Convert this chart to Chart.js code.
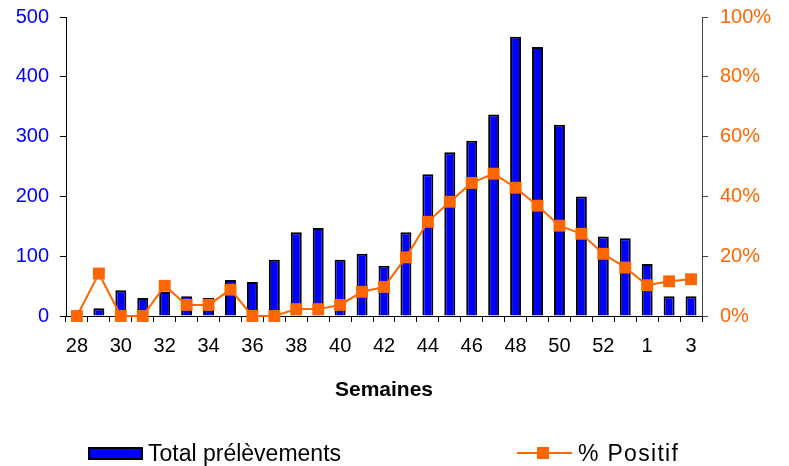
<!DOCTYPE html>
<html>
<head>
<meta charset="utf-8">
<script src="https://cdn.jsdelivr.net/npm/chart.js@4/dist/chart.umd.min.js"></script>
<style>
  html, body { margin: 0; padding: 0; background: #fff; }
  #wrap { position: relative; width: 789px; height: 466px; overflow: hidden; }
  #c { display: block; }
  .lg { position: absolute; font-family: "Liberation Sans", Arial, sans-serif; font-size: 23px; color: #000; line-height: 24px; white-space: nowrap; }
  .swatch-bar { position: absolute; left: 88px; top: 447px; width: 55px; height: 13px; box-sizing: border-box; background: #0000FF; border: 2px solid #000; }
  .swatch-line { position: absolute; left: 517px; top: 452px; width: 55px; height: 2px; background: #FF6600; }
  .swatch-mark { position: absolute; left: 537px; top: 447px; width: 12px; height: 12px; background: #FF6600; }
</style>
</head>
<body>
<div id="wrap">
  <canvas id="c" width="789" height="466"></canvas>
  <div class="swatch-bar"></div>
  <div class="lg" style="left:148px; top:441px;">Total prélèvements</div>
  <div class="swatch-line"></div>
  <div class="swatch-mark"></div>
  <div class="lg" style="left:578px; top:441px; letter-spacing:1.3px;">% Positif</div>
</div>
<script>
// Weeks of the season (28 → 53, then 1 → 3 of the following year)
const weeks = ['28','29','30','31','32','33','34','35','36','37','38','39','40','41','42',
               '43','44','45','46','47','48','49','50','51','52','53','1','2','3'];

// Number of samples taken per week
const totalSamples = [0, 13, 43, 30, 40, 33, 30, 60, 57, 94, 140, 147, 94, 104, 84,
                      140, 237, 274, 293, 337, 467, 450, 320, 200, 133, 130, 87, 33, 33];

// Share of positive samples per week (%)
const positiveRate = [0, 14.2, 0, 0, 10.1, 3.7, 3.7, 8.8, 0, 0, 2.3, 2.3, 3.7, 8.1, 9.7,
                      19.6, 31.5, 38.2, 44.5, 47.6, 42.9, 36.9, 30.2, 27.5, 20.8, 16.2, 10.3, 11.6, 12.3];

const countTicks = [0, 100, 200, 300, 400, 500];
const percentTicks = [0, 20, 40, 60, 80, 100];

const FONT = '"Liberation Sans", Arial, sans-serif';
const BLUE = '#0000FF';
const ORANGE = '#FF6600';

// Fixed axis box sizes so the plot area sits at a known place
function fitVertical(width) {
  return (s) => { s.width = width; s.paddingTop = 0; s.paddingBottom = 0; };
}

new Chart(document.getElementById('c'), {
  type: 'bar',
  data: {
    labels: weeks,
    datasets: [
      {
        type: 'line',
        label: '% Positif',
        data: positiveRate,
        yAxisID: 'yPct',
        borderColor: ORANGE,
        backgroundColor: ORANGE,
        borderWidth: 2,
        pointStyle: 'rect',
        pointRadius: 8.4,
        pointBorderWidth: 0,
        pointBackgroundColor: ORANGE,
        tension: 0,
        clip: false,
        order: 1
      },
      {
        type: 'bar',
        label: 'Total prélèvements',
        data: totalSamples,
        yAxisID: 'yCount',
        backgroundColor: BLUE,
        borderColor: '#000',
        borderWidth: 2,
        borderSkipped: 'start',
        barPercentage: 0.5,
        categoryPercentage: 1.0,
        order: 2
      }
    ]
  },
  options: {
    responsive: false,
    devicePixelRatio: 1,
    animation: false,
    layout: { padding: { top: 17, left: 0, right: 0, bottom: 0 } },
    plugins: {
      legend: { display: false },
      tooltip: { enabled: false }
    },
    scales: {
      x: {
        position: 'bottom',
        grid: { display: true, drawOnChartArea: false, offset: true, tickLength: 6, color: '#000', lineWidth: 1 },
        border: { display: true, color: '#000', width: 1 },
        ticks: {
          autoSkip: false,
          maxRotation: 0,
          minRotation: 0,
          padding: 12,
          color: '#000',
          font: { family: FONT, size: 20 },
          callback: function (v, i) { return i % 2 === 0 ? this.getLabelForValue(v) : ''; }
        },
        title: {
          display: true,
          text: 'Semaines',
          color: '#000',
          font: { family: FONT, size: 21, weight: 'bold' },
          padding: { top: 0, bottom: 63 }
        },
        afterFit: (s) => { s.height = 150; s.paddingLeft = 0; s.paddingRight = 0; }
      },
      yCount: {
        position: 'left',
        min: 0,
        max: 500,
        grid: { display: true, drawOnChartArea: false, tickLength: 6, color: '#000' },
        border: { display: true, color: '#000', width: 1 },
        afterBuildTicks: (s) => { s.ticks = countTicks.map(v => ({ value: v })); },
        ticks: {
          padding: 11,
          color: BLUE,
          font: { family: FONT, size: 20 }
        },
        afterFit: fitVertical(66)
      },
      yPct: {
        position: 'right',
        min: 0,
        max: 100,
        grid: { display: true, drawOnChartArea: false, tickLength: 6, color: '#444' },
        border: { display: true, color: '#444', width: 1 },
        afterBuildTicks: (s) => { s.ticks = percentTicks.map(v => ({ value: v })); },
        ticks: {
          padding: 12,
          color: ORANGE,
          font: { family: FONT, size: 20 },
          callback: (v) => v + '%'
        },
        afterFit: fitVertical(87)
      }
    }
  }
});
</script>
</body>
</html>
